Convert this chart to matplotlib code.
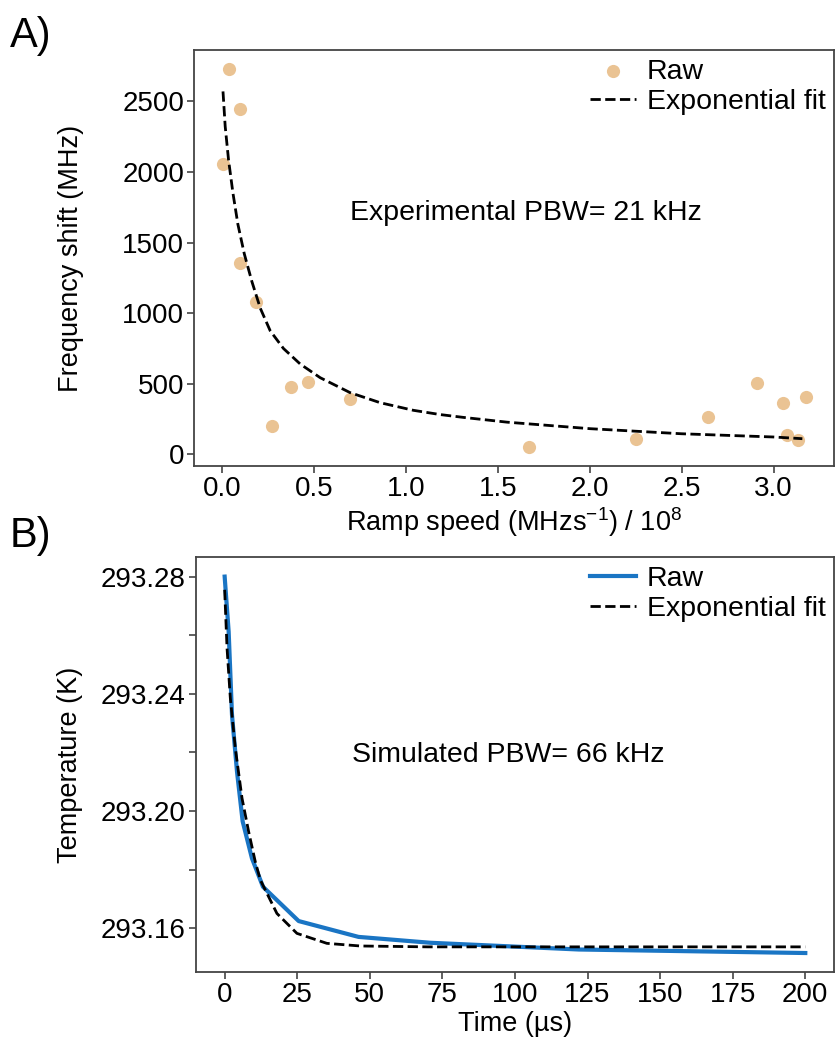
import numpy as np
import matplotlib.pyplot as plt
from matplotlib.ticker import MultipleLocator

plt.rcParams['font.family'] = ['Liberation Sans', 'DejaVu Sans']
plt.rcParams['mathtext.fontset'] = 'custom'
plt.rcParams['mathtext.rm'] = 'Liberation Sans'
plt.rcParams['mathtext.it'] = 'Liberation Sans:italic'

tick_fontsize = 20
label_fontsize = 19.5
text_fontsize = 20.5

# panel A: measured points
ramp_speed = [0.005, 0.036, 0.098, 0.098, 0.183, 0.272, 0.373, 0.467, 0.696,
              1.67, 2.252, 2.643, 2.911, 3.053, 3.073, 3.132, 3.176]
freq_shift = [2057, 2730, 2444, 1357, 1076, 200, 476, 514, 394,
              54, 108, 264, 502, 361, 137, 99, 406]

# panel A: fitted curve
fit_speed = [0.004, 0.016, 0.034, 0.058, 0.085, 0.12, 0.161, 0.207, 0.261,
             0.333, 0.424, 0.533, 0.696, 0.859, 1.04, 1.185, 1.311, 1.55,
             2.0, 2.498, 3.0, 3.156]
fit_shift = [2571, 2323, 2088, 1852, 1630, 1420, 1225, 1035, 875,
             750, 640, 543, 437, 366, 312, 282, 262, 228,
             182, 146, 123, 111]

# panel B: simulated temperature
time_raw = [0.0, 1.38, 2.53, 4.26, 6.2, 9.4, 13.2, 25.5, 46.1, 70.8, 122, 200]
temp_raw = [293.2800, 293.2612, 293.2328, 293.2134, 293.1965, 293.1839,
            293.1742, 293.1625, 293.1571, 293.1551, 293.1528, 293.1516]

# panel B: fitted curve
time_fit = [0.0, 0.82, 1.96, 3.68, 5.98, 8.26, 10.56, 12.3, 18.0, 24.9,
            35.2, 46.7, 70, 200]
temp_fit = [293.2755, 293.2556, 293.2385, 293.2214, 293.2044, 293.1930,
            293.1827, 293.1765, 293.1651, 293.1583, 293.1549, 293.1540,
            293.1537, 293.1537]

fig = plt.figure(figsize=(8.36, 10.43), dpi=100)
ax1 = fig.add_axes([0.232, 0.553, 0.766, 0.399])
ax2 = fig.add_axes([0.234, 0.068, 0.764, 0.398])

spine_col = '#444444'
for ax in (ax1, ax2):
    for s in ax.spines.values():
        s.set_color(spine_col)
        s.set_linewidth(1.3)
    ax.tick_params(which='both', labelsize=tick_fontsize, color=spine_col,
                   length=5, width=1.2, pad=2)

ax1.scatter(ramp_speed, freq_shift, s=90, color='#eac393', label='Raw',
            zorder=2, linewidths=0)
ax1.plot(fit_speed, fit_shift, '--', color='black', linewidth=2,
         label='Exponential fit', zorder=3)
ax1.set_xticks([0.0, 0.5, 1.0, 1.5, 2.0, 2.5, 3.0])
ax1.set_yticks([0, 500, 1000, 1500, 2000, 2500])
ax1.set_xlim(-0.154, 3.33)
ax1.set_ylim(-84, 2864)
ax1.set_xlabel('Ramp speed (MHzs$^{-1}$) / 10$^{8}$', fontsize=label_fontsize,
               labelpad=2)
ax1.set_ylabel('Frequency shift (MHz)', fontsize=label_fontsize)
ax1.yaxis.set_label_coords(-0.172, 0.5)
ax1.text(0.244, 0.608, 'Experimental PBW= 21 kHz', transform=ax1.transAxes,
         fontsize=text_fontsize, va='center')
ax1.legend(loc='upper right', frameon=False, fontsize=text_fontsize,
           handletextpad=0.4, handlelength=1.6, borderaxespad=0.1,
           labelspacing=0.15, borderpad=0.2)

ax2.plot(time_raw, temp_raw, color='#1a75c4', linewidth=3, label='Raw')
ax2.plot(time_fit, temp_fit, '--', color='black', linewidth=2,
         label='Exponential fit')
ax2.set_xticks([0, 25, 50, 75, 100, 125, 150, 175, 200])
ax2.set_yticks([293.16, 293.20, 293.24, 293.28])
ax2.yaxis.set_minor_locator(MultipleLocator(0.02))
ax2.set_yticklabels(['293.16', '293.20', '293.24', '293.28'])
ax2.set_xlim(-10, 210)
ax2.set_ylim(293.1451, 293.2867)
ax2.set_xlabel('Time (µs)', fontsize=label_fontsize, labelpad=2)
ax2.set_ylabel('Temperature (K)', fontsize=label_fontsize)
ax2.yaxis.set_label_coords(-0.176, 0.5)
ax2.text(0.245, 0.523, 'Simulated PBW= 66 kHz', transform=ax2.transAxes,
         fontsize=text_fontsize, va='center')
ax2.legend(loc='upper right', frameon=False, fontsize=text_fontsize,
           handletextpad=0.4, handlelength=1.6, borderaxespad=0.1,
           labelspacing=0.15, borderpad=0.2)

fig.text(0.012, 0.985, 'A)', fontsize=30, va='top')
fig.text(0.012, 0.505, 'B)', fontsize=30, va='top')

fig.savefig('out.png', dpi=100)
